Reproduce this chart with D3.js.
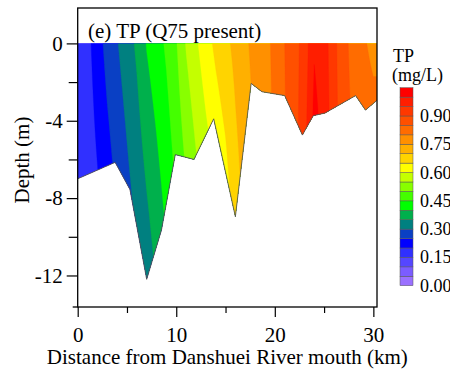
<!DOCTYPE html>
<html><head><meta charset="utf-8">
<script src="https://cdn.jsdelivr.net/npm/d3@7"></script>
<style>
body{margin:0;background:#fff}
svg{display:block}
text{font-family:"Liberation Serif","Times New Roman",serif;fill:#000}
</style>
</head><body>
<svg id="c" width="450" height="374"></svg>
<script>
// ---- data ----
const stationKm = [0,1,2,3,4,5,6,7,8,9,10,11,12,13,14,15,16,17,18,19,20,21,22,23,24,25,26,27,28,29,30];
// TP (mg/L) at the surface (0 m)
const tpSurface = [0.170,0.185,0.227,0.268,0.297,0.326,0.359,0.403,0.429,0.458,0.496,0.554,0.592,0.629,0.661,0.687,0.714,0.742,0.765,0.785,0.812,0.850,0.881,0.920,0.995,0.975,0.914,0.864,0.833,0.810,0.780];
// TP (mg/L) at 12 m depth
const tpDeep = [0.150,0.160,0.175,0.200,0.235,0.265,0.290,0.320,0.355,0.390,0.430,0.460,0.500,0.530,0.560,0.595,0.660,0.700,0.740,0.770,0.800,0.840,0.880,0.950,1.050,1.000,0.930,0.880,0.860,0.900,0.920];
const deepRefM = 12;
// river bed profile
const bedKm    = [0, 3.8, 5.3, 7.0, 8.5, 9.9, 11.8, 13.8, 16.0, 17.6, 18.7, 21.0, 22.8, 23.9, 25.1, 28.2, 29.2, 30.4];
const bedDepth = [-7.0, -6.15, -7.55, -12.2, -9.65, -5.75, -6.0, -3.9, -8.96, -2.07, -2.5, -2.7, -4.74, -3.74, -3.6, -2.7, -3.45, -2.93];
// contour levels and colours
const levels = [0,0.05,0.10,0.15,0.20,0.25,0.30,0.35,0.40,0.45,0.50,0.55,0.60,0.65,0.70,0.75,0.80,0.85,0.90,0.95,1.00];
const levelTop = 1.05;
const bandColors = ["#9a70ff","#7b5cff","#5546ff","#3030ff","#0000ff","#0a40c4","#008080","#00b04c","#00ff00","#44ff00","#88ff00","#c4ff00","#ffff00","#ffd400","#ffb000","#ff9000","#ff6c00","#ff5000","#ff3800","#ff1e00","#ff0000"];
const cbTicks = [0,0.15,0.30,0.45,0.60,0.75,0.90];
const xMajor = [0,10,20,30], xMinor = [5,15,25];
const yMajor = [0,-4,-8,-12], yMinor = [-2,-6,-10];

// ---- layout ----
const svg = d3.select("#c");
const L = 77.7, R = 377, T = 8, B = 307;
const x = d3.scaleLinear().domain([0, 30.37]).range([L, R]);
const y = d3.scaleLinear().domain([1.83, -13.63]).range([T, B]);

// ---- field on a grid ----
const sTop = d3.scaleLinear().domain(stationKm).range(tpSurface).clamp(true);
const sBot = d3.scaleLinear().domain(stationKm).range(tpDeep).clamp(true);
const gx0 = -0.5, dx = 0.1, nx = 312;
const gz0 = -0.5, dz = 0.05, nz = 280;
const values = new Float64Array(nx*nz);
for (let j=0;j<nz;j++){
  const z = Math.max(0, gz0 + j*dz);
  const w = z/deepRefM;
  for (let i=0;i<nx;i++){
    const km = gx0 + i*dx;
    values[j*nx+i] = sTop(km)*(1-w) + sBot(km)*w;
  }
}
const contours = d3.contours().size([nx,nz]).thresholds(levels)(values);
const proj = d3.geoTransform({point:function(X,Y){
  this.stream.point(x(gx0 + (X-0.5)*dx), y(-(gz0 + (Y-0.5)*dz)));
}});
const gpath = d3.geoPath(proj);

const defs = svg.append("defs");
defs.append("clipPath").attr("id","frameClip").append("rect")
  .attr("x",L).attr("y",T).attr("width",R-L).attr("height",B-T);
const bedPts = [[0,0]].concat(bedKm.map((k,i)=>[k,bedDepth[i]])).concat([[bedKm[bedKm.length-1],0]]);
const line = d3.line().x(d=>x(d[0])).y(d=>y(d[1]));
defs.append("clipPath").attr("id","bedClip").append("path").attr("d", line(bedPts)+"Z");

const g = svg.append("g").attr("clip-path","url(#frameClip)").append("g").attr("clip-path","url(#bedClip)");
g.selectAll("path").data(contours).join("path")
  .attr("d", gpath)
  .attr("fill", d => bandColors[levels.indexOf(d.value)])
  .attr("stroke", d => bandColors[levels.indexOf(d.value)])
  .attr("stroke-width", 0.3);

svg.append("g").attr("clip-path","url(#frameClip)").append("path")
  .attr("d", line(bedKm.map((k,i)=>[k,bedDepth[i]])))
  .attr("fill","none").attr("stroke","#555").attr("stroke-width",0.9);

// ---- axes ----
const fmt = d => String(d);
const ax = svg.append("g").attr("transform",`translate(0,${B})`);
ax.call(d3.axisBottom(x).tickValues(xMajor).tickSize(10).tickPadding(10).tickFormat(fmt));
ax.append("g").call(d3.axisBottom(x).tickValues(xMinor).tickSize(6).tickFormat(""));
const ay = svg.append("g").attr("transform",`translate(${L},0)`);
ay.call(d3.axisLeft(y).tickValues(yMajor).tickSize(11).tickPadding(4).tickFormat(fmt));
ay.append("g").call(d3.axisLeft(y).tickValues(yMinor).tickSize(9).tickFormat(""));
svg.selectAll(".domain").remove();
svg.selectAll(".tick line").attr("stroke","#000").attr("stroke-width",1.2);
svg.selectAll(".tick text").attr("font-size",21).attr("font-family",'"Liberation Serif",serif').attr("fill","#000");

svg.append("rect").attr("x",L).attr("y",T).attr("width",R-L).attr("height",B-T)
  .attr("fill","none").attr("stroke","#000").attr("stroke-width",1.3);
svg.append("line").attr("x1",72.7).attr("x2",L).attr("y1",B).attr("y2",B).attr("stroke","#000").attr("stroke-width",1.3);

svg.append("text").attr("x",88).attr("y",38).attr("font-size",21).text("(e) TP (Q75 present)");
svg.append("text").attr("x",(L+R)/2).attr("y",364).attr("text-anchor","middle").attr("font-size",21)
  .text("Distance from Danshuei River mouth (km)");
svg.append("text").attr("transform","translate(29,160) rotate(-90)").attr("text-anchor","middle").attr("font-size",21)
  .text("Depth (m)");

// ---- colour bar ----
const cb = d3.scaleLinear().domain([0, levelTop]).range([285.7, 87.7]);
const cbx = 400, cbw = 13;
const cbg = svg.append("g");
cbg.selectAll("rect").data(levels).join("rect")
  .attr("x",cbx).attr("width",cbw)
  .attr("y",(d,i)=>cb(i<levels.length-1?levels[i+1]:levelTop))
  .attr("height",(d,i)=>cb(d)-cb(i<levels.length-1?levels[i+1]:levelTop))
  .attr("fill",(d,i)=>bandColors[i])
  .attr("stroke","#555").attr("stroke-width",0.5);
cbg.selectAll("text").data(cbTicks).join("text")
  .attr("x",420).attr("y",d=>cb(d)+6).attr("font-size",18)
  .text(d=>d3.format(".2f")(d));
svg.append("text").attr("x",393).attr("y",62).attr("font-size",18).text("TP");
svg.append("text").attr("x",392).attr("y",81).attr("font-size",18).text("(mg/L)");
</script>
</body></html>
